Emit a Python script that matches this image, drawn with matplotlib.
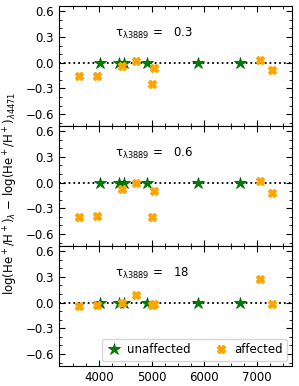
import numpy as np
import matplotlib
matplotlib.use("Agg")
import matplotlib.pyplot as plt
from matplotlib.ticker import MultipleLocator

# --- lines and values ---
wl_unaff = [4026, 4388, 4471, 4922, 5876, 6678]
wl_aff = [3614, 3965, 4438, 4713, 5016, 5048, 7065, 7281]

taus = ['0.3', '0.6', '18']
unaff_vals = [
    [0.0, 0.0, 0.0, 0.0, 0.0, 0.0],
    [0.0, 0.0, 0.0, 0.0, 0.0, 0.0],
    [0.0, 0.0, 0.0, 0.0, 0.0, 0.0],
]
aff_vals = [
    [-0.16, -0.16, -0.04, 0.015, -0.245, -0.06, 0.03, -0.085],
    [-0.40, -0.385, -0.077, 0.0, -0.40, -0.10, 0.015, -0.12],
    [-0.04, -0.03, -0.01, 0.09, -0.03, -0.02, 0.27, -0.02],
]

fs = 8.5
plt.rcParams['font.size'] = fs

fig, axes = plt.subplots(3, 1, figsize=(2.99, 3.86), dpi=100, sharex=True)
fig.subplots_adjust(left=0.197, right=0.977, top=0.984, bottom=0.052, hspace=0)

for i, ax in enumerate(axes):
    ax.axhline(0, color='k', ls=':', lw=1.3, zorder=1)
    ax.plot(wl_unaff, unaff_vals[i], '*', color='green', ms=9, mec='darkgreen',
            mew=0.6, ls='none', label='unaffected', zorder=2)
    ax.plot(wl_aff, aff_vals[i], 'X', color='orange', ms=6, mec='orange',
            ls='none', label='affected', zorder=3)
    ax.text(0.24, 0.775, r'$\mathrm{\tau_{\lambda3889}}$ =   ' + taus[i],
            transform=ax.transAxes, fontsize=fs, va='center')
    ax.set_xlim(3242, 7665)
    ax.set_ylim(-0.74, 0.66)
    ax.yaxis.set_major_locator(MultipleLocator(0.3))
    ax.yaxis.set_minor_locator(MultipleLocator(0.1))
    ax.xaxis.set_major_locator(MultipleLocator(1000))
    ax.xaxis.set_minor_locator(MultipleLocator(250))
    ax.tick_params(which='both', direction='in', top=True, right=True, labelsize=fs)
    ax.tick_params(which='major', length=4)
    ax.tick_params(which='minor', length=2)

axes[2].legend(loc='lower right', ncol=2, fontsize=fs,
               handlelength=1.2, handletextpad=0.5, columnspacing=2.0,
               borderpad=0.4, borderaxespad=0.4)

# x label sits mostly below the canvas, as in the original
axes[2].set_xlabel(r'$\lambda$ (Å)', fontsize=fs, labelpad=12)
fig.text(0.035, 0.5, r'log(He$^+$/H$^+$)$_\lambda$ $-$ log(He$^+$/H$^+$)$_{\lambda4471}$',
         rotation=90, va='center', ha='center', fontsize=fs)

fig.savefig('out.png', dpi=100)
